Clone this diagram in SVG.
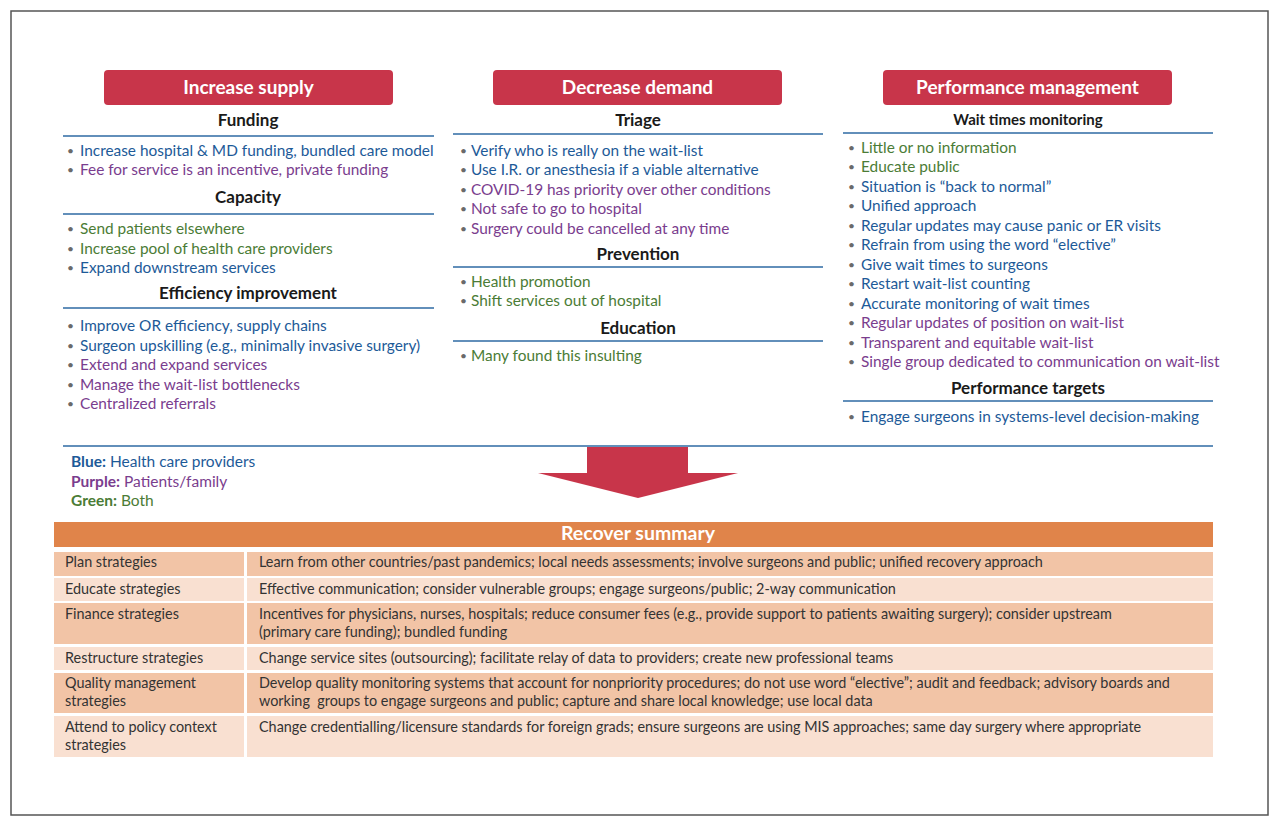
<svg xmlns="http://www.w3.org/2000/svg" width="1280" height="828" viewBox="0 0 1280 828">
<style>
text{font-family:Lato,"Liberation Sans",sans-serif;}
.hdr{fill:#c8354a;}
.ht{fill:#fff;font-weight:bold;font-size:19px;text-anchor:middle;}
.sh{fill:#1a1a1a;font-weight:bold;font-size:17px;text-anchor:middle;}
.sh2{fill:#1a1a1a;font-weight:bold;font-size:15px;text-anchor:middle;}
.ln{stroke:#2e6aa3;stroke-width:1.5;fill:none;}
.it{font-size:15.4px;}
.b{fill:#1d5a98;}
.p{fill:#7a3d8e;}
.g{fill:#4b7c36;}
.bu{fill:#6a6a6a;font-size:12px;}
.tt{font-size:14.4px;fill:#333;}
.dk{fill:#f2c4a6;}
.lt{fill:#f9e0d1;}
</style>
<rect x="11" y="11" width="1257" height="804" fill="#fff" stroke="#555" stroke-width="1.5"/>

<g id="col-supply">
<rect class="hdr" x="104" y="70" width="289" height="35" rx="4"/>
<text class="ht" x="248.5" y="94">Increase supply</text>
<text class="sh" x="248" y="126">Funding</text>
<line class="ln" x1="63" y1="136" x2="434" y2="136"/>
<g class="bu"><text x="67" y="155">•</text><text x="67" y="174">•</text><text x="67" y="233">•</text><text x="67" y="253">•</text><text x="67" y="272">•</text><text x="67" y="330">•</text><text x="67" y="350">•</text><text x="67" y="369">•</text><text x="67" y="389">•</text><text x="67" y="408">•</text></g>
<text class="it b" x="80" y="156">Increase hospital &amp; MD funding, bundled care model</text>
<text class="it p" x="80" y="175">Fee for service is an incentive, private funding</text>
<text class="sh" x="248" y="203">Capacity</text>
<line class="ln" x1="63" y1="214" x2="434" y2="214"/>
<text class="it g" x="80" y="234">Send patients elsewhere</text>
<text class="it g" x="80" y="254">Increase pool of health care providers</text>
<text class="it b" x="80" y="273">Expand downstream services</text>
<text class="sh" x="248" y="299">Efficiency improvement</text>
<line class="ln" x1="63" y1="308" x2="434" y2="308"/>
<text class="it b" x="80" y="331">Improve OR efficiency, supply chains</text>
<text class="it b" x="80" y="351">Surgeon upskilling (e.g., minimally invasive surgery)</text>
<text class="it p" x="80" y="370">Extend and expand services</text>
<text class="it p" x="80" y="390">Manage the wait-list bottlenecks</text>
<text class="it p" x="80" y="409">Centralized referrals</text>
</g>

<g id="col-demand">
<rect class="hdr" x="493" y="70" width="289" height="35" rx="4"/>
<text class="ht" x="637.5" y="94">Decrease demand</text>
<text class="sh" x="638" y="126">Triage</text>
<line class="ln" x1="453" y1="134" x2="823" y2="134"/>
<g class="bu"><text x="460" y="155">•</text><text x="460" y="174">•</text><text x="460" y="194">•</text><text x="460" y="213">•</text><text x="460" y="233">•</text><text x="460" y="286">•</text><text x="460" y="305">•</text><text x="460" y="360">•</text></g>
<text class="it b" x="471" y="156">Verify who is really on the wait-list</text>
<text class="it b" x="471" y="175">Use I.R. or anesthesia if a viable alternative</text>
<text class="it p" x="471" y="195">COVID-19 has priority over other conditions</text>
<text class="it p" x="471" y="214">Not safe to go to hospital</text>
<text class="it p" x="471" y="234">Surgery could be cancelled at any time</text>
<text class="sh" x="638" y="260">Prevention</text>
<line class="ln" x1="453" y1="267" x2="823" y2="267"/>
<text class="it g" x="471" y="287">Health promotion</text>
<text class="it g" x="471" y="306">Shift services out of hospital</text>
<text class="sh" x="638" y="334">Education</text>
<line class="ln" x1="453" y1="341" x2="823" y2="341"/>
<text class="it g" x="471" y="361">Many found this insulting</text>
</g>

<g id="col-performance">
<rect class="hdr" x="883" y="70" width="289" height="35" rx="4"/>
<text class="ht" x="1027.5" y="94">Performance management</text>
<text class="sh2" x="1028" y="125">Wait times monitoring</text>
<line class="ln" x1="843" y1="133" x2="1213" y2="133"/>
<g class="bu"><text x="848" y="152">•</text><text x="848" y="171">•</text><text x="848" y="191">•</text><text x="848" y="210">•</text><text x="848" y="230">•</text><text x="848" y="249">•</text><text x="848" y="269">•</text><text x="848" y="288">•</text><text x="848" y="308">•</text><text x="848" y="327">•</text><text x="848" y="347">•</text><text x="848" y="366">•</text><text x="848" y="421">•</text></g>
<text class="it g" x="861" y="153">Little or no information</text>
<text class="it g" x="861" y="172">Educate public</text>
<text class="it b" x="861" y="192">Situation is “back to normal”</text>
<text class="it b" x="861" y="211">Unified approach</text>
<text class="it b" x="861" y="231">Regular updates may cause panic or ER visits</text>
<text class="it b" x="861" y="250">Refrain from using the word “elective”</text>
<text class="it b" x="861" y="270">Give wait times to surgeons</text>
<text class="it b" x="861" y="289">Restart wait-list counting</text>
<text class="it b" x="861" y="309">Accurate monitoring of wait times</text>
<text class="it p" x="861" y="328">Regular updates of position on wait-list</text>
<text class="it p" x="861" y="348">Transparent and equitable wait-list</text>
<text class="it p" x="861" y="367">Single group dedicated to communication on wait-list</text>
<text class="sh" x="1028" y="394">Performance targets</text>
<line class="ln" x1="843" y1="401" x2="1213" y2="401"/>
<text class="it b" x="861" y="422">Engage surgeons in systems-level decision-making</text>
</g>

<g id="connectors">
<line class="ln" x1="63" y1="446" x2="1213" y2="446"/>
<polygon points="587,447 688,447 688,473 738,473 638,498 538,473 587,473" fill="#c8354a"/>
</g>

<g id="legend">
<text x="71" y="467" font-size="15.5"><tspan font-weight="bold" fill="#1d5a98">Blue:</tspan><tspan fill="#1d5a98"> Health care providers</tspan></text>
<text x="71" y="487" font-size="15.5"><tspan font-weight="bold" fill="#7a3d8e">Purple:</tspan><tspan fill="#7a3d8e"> Patients/family</tspan></text>
<text x="71" y="506" font-size="15.5"><tspan font-weight="bold" fill="#4b7c36">Green:</tspan><tspan fill="#4b7c36"> Both</tspan></text>
</g>

<g id="summary">
<rect x="54" y="522" width="1159" height="25" fill="#e0844a"/>
<text x="638" y="540" fill="#fff" font-weight="bold" font-size="19.5" text-anchor="middle">Recover summary</text>
<rect class="dk" x="54" y="552" width="190" height="24"/><rect class="dk" x="247" y="552" width="966" height="24"/>
<rect class="lt" x="54" y="578" width="190" height="23"/><rect class="lt" x="247" y="578" width="966" height="23"/>
<rect class="dk" x="54" y="603" width="190" height="41"/><rect class="dk" x="247" y="603" width="966" height="41"/>
<rect class="lt" x="54" y="647" width="190" height="23"/><rect class="lt" x="247" y="647" width="966" height="23"/>
<rect class="dk" x="54" y="673" width="190" height="40"/><rect class="dk" x="247" y="673" width="966" height="40"/>
<rect class="lt" x="54" y="716" width="190" height="41"/><rect class="lt" x="247" y="716" width="966" height="41"/>
<text class="tt" x="65" y="567">Plan strategies</text>
<text class="tt" x="259" y="567">Learn from other countries/past pandemics; local needs assessments; involve surgeons and public; unified recovery approach</text>
<text class="tt" x="65" y="594">Educate strategies</text>
<text class="tt" x="259" y="594">Effective communication; consider vulnerable groups; engage surgeons/public; 2-way communication</text>
<text class="tt" x="65" y="619">Finance strategies</text>
<text class="tt" x="259" y="619">Incentives for physicians, nurses, hospitals; reduce consumer fees (e.g., provide support to patients awaiting surgery); consider upstream</text>
<text class="tt" x="259" y="637">(primary care funding); bundled funding</text>
<text class="tt" x="65" y="663">Restructure strategies</text>
<text class="tt" x="259" y="663">Change service sites (outsourcing); facilitate relay of data to providers; create new professional teams</text>
<text class="tt" x="65" y="688">Quality management</text>
<text class="tt" x="65" y="706">strategies</text>
<text class="tt" x="259" y="688">Develop quality monitoring systems that account for nonpriority procedures; do not use word “elective”; audit and feedback; advisory boards and</text>
<text class="tt" x="259" y="706" xml:space="preserve">working  groups to engage surgeons and public; capture and share local knowledge; use local data</text>
<text class="tt" x="65" y="732">Attend to policy context</text>
<text class="tt" x="65" y="750">strategies</text>
<text class="tt" x="259" y="732">Change credentialling/licensure standards for foreign grads; ensure surgeons are using MIS approaches; same day surgery where appropriate</text>
</g>
</svg>
